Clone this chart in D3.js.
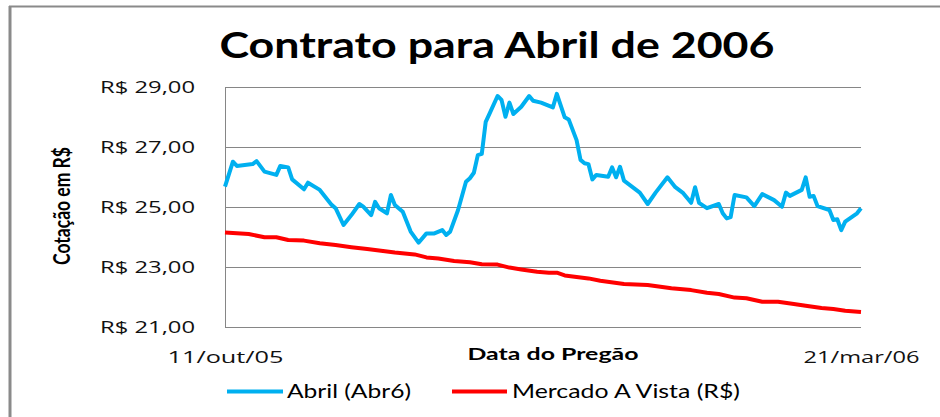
<!DOCTYPE html>
<html>
<head>
<meta charset="utf-8">
<script src="https://cdn.jsdelivr.net/npm/d3@7"></script>
<style>
  html, body { margin: 0; padding: 0; background: #fff; }
  svg { display: block; }
</style>
</head>
<body>
<svg></svg>
<script>
// ---- DATA ----
const abrDates = [
  "2005-10-11","2005-10-13","2005-10-14","2005-10-18","2005-10-19","2005-10-21","2005-10-24","2005-10-25",
  "2005-10-27","2005-10-28","2005-10-31","2005-11-01","2005-11-04","2005-11-07","2005-11-08","2005-11-10",
  "2005-11-12","2005-11-14","2005-11-15","2005-11-17","2005-11-18","2005-11-19","2005-11-21","2005-11-22",
  "2005-11-23","2005-11-25","2005-11-27","2005-11-29","2005-12-01","2005-12-03","2005-12-05","2005-12-06",
  "2005-12-07","2005-12-09","2005-12-11","2005-12-12","2005-12-13","2005-12-14","2005-12-15","2005-12-16",
  "2005-12-17","2005-12-19","2005-12-20","2005-12-21","2005-12-22","2005-12-23","2005-12-25","2005-12-27",
  "2005-12-28","2005-12-30","2006-01-02","2006-01-03","2006-01-05","2006-01-06","2006-01-08","2006-01-09",
  "2006-01-10","2006-01-11","2006-01-12","2006-01-13","2006-01-16","2006-01-17","2006-01-18","2006-01-19",
  "2006-01-20","2006-01-22","2006-01-24","2006-01-26","2006-01-28","2006-01-31","2006-02-02","2006-02-04",
  "2006-02-06","2006-02-07","2006-02-08","2006-02-10","2006-02-13","2006-02-14","2006-02-15","2006-02-16",
  "2006-02-17","2006-02-20","2006-02-22","2006-02-24","2006-02-27","2006-03-01","2006-03-02","2006-03-03",
  "2006-03-06","2006-03-07","2006-03-08","2006-03-09","2006-03-10","2006-03-13","2006-03-14","2006-03-15",
  "2006-03-16","2006-03-17","2006-03-20","2006-03-21"
];
const abrValues = [
  25.68, 26.51, 26.37, 26.43, 26.53, 26.18, 26.07, 26.37,
  26.32, 25.92, 25.59, 25.81, 25.57, 25.07, 24.96, 24.40,
  24.73, 25.10, 25.01, 24.73, 25.17, 24.96, 24.79, 25.40,
  25.07, 24.84, 24.18, 23.81, 24.12, 24.12, 24.23, 24.07,
  24.18, 24.90, 25.84, 25.96, 26.14, 26.73, 26.77, 27.84,
  28.12, 28.70, 28.57, 28.01, 28.48, 28.10, 28.34, 28.70,
  28.54, 28.48, 28.32, 28.77, 27.99, 27.92, 27.23, 26.57,
  26.46, 26.43, 25.92, 26.07, 26.01, 26.32, 25.99, 26.34,
  25.88, 25.68, 25.48, 25.10, 25.48, 25.99, 25.66, 25.46,
  25.14, 25.66, 25.14, 24.96, 25.10, 24.79, 24.62, 24.66,
  25.40, 25.32, 25.03, 25.43, 25.23, 25.01, 25.48, 25.37,
  25.57, 25.99, 25.34, 25.37, 25.03, 24.90, 24.57, 24.59,
  24.23, 24.51, 24.79, 24.96
];

const vistaDates = [
  "2005-10-11","2005-10-17","2005-10-21","2005-10-24","2005-10-27","2005-10-31","2005-11-04","2005-11-08",
  "2005-11-12","2005-11-16","2005-11-20","2005-11-23","2005-11-28","2005-12-01","2005-12-04","2005-12-08",
  "2005-12-12","2005-12-15","2005-12-19","2005-12-22","2005-12-25","2005-12-29","2006-01-01","2006-01-03",
  "2006-01-05","2006-01-11","2006-01-14","2006-01-20","2006-01-26","2006-02-01","2006-02-06","2006-02-10",
  "2006-02-13","2006-02-17","2006-02-20","2006-02-24","2006-02-28","2006-03-04","2006-03-07","2006-03-11",
  "2006-03-14","2006-03-17","2006-03-21"
];
const vistaValues = [
  24.15, 24.10, 23.99, 23.99, 23.90, 23.88, 23.79, 23.73,
  23.66, 23.60, 23.53, 23.48, 23.42, 23.32, 23.28, 23.20,
  23.16, 23.09, 23.08, 22.98, 22.92, 22.84, 22.81, 22.81,
  22.72, 22.62, 22.54, 22.43, 22.40, 22.29, 22.23, 22.14,
  22.10, 21.98, 21.96, 21.84, 21.84, 21.77, 21.71, 21.63,
  21.60, 21.54, 21.50
];

const yTicks = [21, 23, 25, 27, 29];
const seriesNames = ["Abril (Abr6)", "Mercado A Vista (R$)"];
const seriesColors = ["#00b0f0", "#ff0000"];

// ---- SETUP ----
const W = 940, H = 417;
const margin = { top: 87, right: 79, bottom: 90, left: 225 };
const width = W - margin.left - margin.right;
const height = H - margin.top - margin.bottom;

const parse = d3.timeParse("%Y-%m-%d");
const ptBR = d3.timeFormatLocale({
  dateTime: "%d/%m/%Y %H:%M:%S", date: "%d/%m/%Y", time: "%H:%M:%S",
  periods: ["AM", "PM"],
  days: ["domingo","segunda","terça","quarta","quinta","sexta","sábado"],
  shortDays: ["dom","seg","ter","qua","qui","sex","sáb"],
  months: ["janeiro","fevereiro","março","abril","maio","junho","julho","agosto","setembro","outubro","novembro","dezembro"],
  shortMonths: ["jan","fev","mar","abr","mai","jun","jul","ago","set","out","nov","dez"]
});
const fmtDate = ptBR.format("%d/%b/%y");

const abr = abrDates.map((d, i) => ({ date: parse(d), value: abrValues[i] }));
const vista = vistaDates.map((d, i) => ({ date: parse(d), value: vistaValues[i] }));

const svg = d3.select("svg").attr("width", W).attr("height", H);

// outer frame (only top and left edges are inside the picture)
svg.append("line").attr("x1", 9).attr("x2", W).attr("y1", 6.5).attr("y2", 6.5)
  .attr("stroke", "#8a8a8a").attr("stroke-width", 2);
svg.append("line").attr("x1", 10).attr("x2", 10).attr("y1", 6).attr("y2", H)
  .attr("stroke", "#8a8a8a").attr("stroke-width", 3);

const g = svg.append("g").attr("transform", `translate(${margin.left},${margin.top})`);

// ---- SCALES ----
const x = d3.scaleTime().domain([abr[0].date, abr[abr.length - 1].date]).range([0, width]);
const y = d3.scaleLinear().domain([21, 29]).range([height, 0]);

// ---- AXES ----
const yAxisG = g.append("g")
  .call(d3.axisLeft(y).tickValues(yTicks).tickSize(-width).tickPadding(30)
    .tickFormat(d => "R$ " + d3.format(".2f")(d).replace(".", ",")));
yAxisG.select(".domain").attr("stroke", "#868686");
yAxisG.selectAll(".tick line").attr("stroke", "#868686").attr("stroke-width", 1);
yAxisG.selectAll(".tick text")
  .attr("font-family", "'Open Sans', sans-serif").attr("font-size", 16)
  .attr("fill", "#111").attr("dy", "0.36em")
  .attr("textLength", 95).attr("lengthAdjust", "spacingAndGlyphs");

const xAxisG = g.append("g").attr("transform", `translate(0,${height})`)
  .call(d3.axisBottom(x).tickValues(x.domain()).tickSize(0).tickPadding(25).tickFormat(fmtDate));
xAxisG.select(".domain").remove();
xAxisG.selectAll(".tick text")
  .attr("font-family", "'Open Sans', sans-serif").attr("font-size", 16)
  .attr("fill", "#111").attr("dy", "0.71em")
  .attr("textLength", 116).attr("lengthAdjust", "spacingAndGlyphs");

// ---- LINES ----
const line = d3.line().x(d => x(d.date)).y(d => y(d.value));

g.append("path").datum(vista)
  .attr("fill", "none").attr("stroke", seriesColors[1]).attr("stroke-width", 4)
  .attr("stroke-linejoin", "round").attr("d", line);

g.append("path").datum(abr)
  .attr("fill", "none").attr("stroke", seriesColors[0]).attr("stroke-width", 4)
  .attr("stroke-linejoin", "round").attr("d", line);

// ---- TEXTS ----
svg.append("text")
  .attr("x", 497).attr("y", 58).attr("text-anchor", "middle")
  .attr("font-family", "Lato, sans-serif").attr("font-weight", "bold").attr("font-size", 37)
  .attr("textLength", 555).attr("lengthAdjust", "spacingAndGlyphs")
  .text("Contrato para Abril de 2006");

svg.append("text")
  .attr("transform", "translate(70,206) scale(1.3,1) rotate(-90)")
  .attr("text-anchor", "middle")
  .attr("font-family", "Lato, sans-serif").attr("font-weight", "bold").attr("font-size", 17)
  .attr("textLength", 118).attr("lengthAdjust", "spacingAndGlyphs")
  .text("Cotação em R$");

svg.append("text")
  .attr("x", 553).attr("y", 360).attr("text-anchor", "middle")
  .attr("font-family", "Lato, sans-serif").attr("font-weight", "bold").attr("font-size", 17)
  .attr("textLength", 171).attr("lengthAdjust", "spacingAndGlyphs")
  .text("Data do Pregão");

// ---- LEGEND ----
const legendItems = [
  { x1: 227, x2: 283, tx: 287, tw: 124 },
  { x1: 452, x2: 507, tx: 512, tw: 228 }
];
const leg = svg.append("g").selectAll("g").data(seriesNames).join("g");
leg.append("line")
  .attr("x1", (d, i) => legendItems[i].x1).attr("x2", (d, i) => legendItems[i].x2)
  .attr("y1", 391.5).attr("y2", 391.5)
  .attr("stroke", (d, i) => seriesColors[i]).attr("stroke-width", 4);
leg.append("text")
  .attr("x", (d, i) => legendItems[i].tx).attr("y", 398)
  .attr("font-family", "Lato, sans-serif").attr("font-size", 19)
  .attr("textLength", (d, i) => legendItems[i].tw).attr("lengthAdjust", "spacingAndGlyphs")
  .text(d => d);
</script>
</body>
</html>
